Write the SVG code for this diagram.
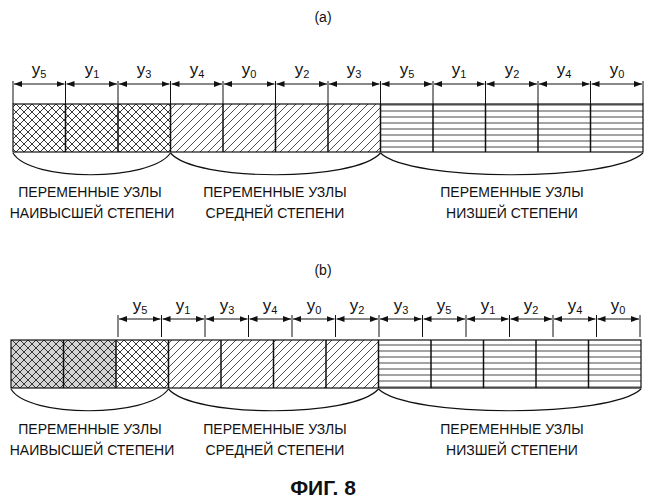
<svg xmlns="http://www.w3.org/2000/svg" width="646" height="500" viewBox="0 0 646 500">
<style>
text{font-family:"Liberation Sans",Arial,sans-serif;fill:#111}
.l{font-size:14px;text-anchor:middle}
.y{font-size:17px;text-anchor:middle}
.s{font-size:11px}
.c{stroke:#111;stroke-width:1.5}
.t{stroke:#111;stroke-width:1}
.b{fill:none;stroke:#111;stroke-width:1.2}
</style>
<defs>
<pattern id="x" width="8" height="8" patternUnits="userSpaceOnUse"><path d="M0,0L8,8M8,0L0,8" stroke="#222" stroke-width="0.9"/></pattern>
<pattern id="xg" width="8" height="8" patternUnits="userSpaceOnUse"><rect width="8" height="8" fill="#d4d4d4"/><path d="M0,0L8,8M8,0L0,8" stroke="#222" stroke-width="0.9"/></pattern>
<pattern id="d" width="8" height="8" patternUnits="userSpaceOnUse"><path d="M0,8L8,0M-2,2L2,-2M6,10L10,6" stroke="#222" stroke-width="0.8"/></pattern>
<pattern id="h" width="10" height="6" patternUnits="userSpaceOnUse"><path d="M0,3H10" stroke="#333" stroke-width="0.9"/></pattern>
<marker id="a" viewBox="0 0 8 6" refX="8" refY="3" markerWidth="8" markerHeight="6" orient="auto-start-reverse" markerUnits="userSpaceOnUse"><path d="M0,0L8,3L0,6z" fill="#111"/></marker>
</defs>
<text class="l" x="323" y="22">(a)</text>
<text class="l" x="323" y="275">(b)</text>
<g id="rowA">
<rect x="13" y="104" width="157.5" height="48" fill="url(#x)"/>
<rect x="170.5" y="104" width="210" height="48" fill="url(#d)"/>
<rect x="380.5" y="104" width="262.5" height="48" fill="url(#h)"/>
<rect x="13" y="104" width="630" height="48" class="b" stroke-width="1.5"/>
<g class="c">
<path d="M65.5,104V152M118,104V152M170.5,104V152M223,104V152M275.5,104V152M328,104V152M380.5,104V152M433,104V152M485.5,104V152M538,104V152M590.5,104V152"/>
</g>
</g>
<g id="dimA" class="t">
<path d="M13,81V104M65.5,81V104M118,81V104M170.5,81V104M223,81V104M275.5,81V104M328,81V104M380.5,81V104M433,81V104M485.5,81V104M538,81V104M590.5,81V104M643,81V104"/>
<g marker-start="url(#a)" marker-end="url(#a)">
<line x1="14" y1="84" x2="64.5" y2="84"/><line x1="66.5" y1="84" x2="117" y2="84"/><line x1="119" y1="84" x2="169.5" y2="84"/><line x1="171.5" y1="84" x2="222" y2="84"/><line x1="224" y1="84" x2="274.5" y2="84"/><line x1="276.5" y1="84" x2="327" y2="84"/><line x1="329" y1="84" x2="379.5" y2="84"/><line x1="381.5" y1="84" x2="432" y2="84"/><line x1="434" y1="84" x2="484.5" y2="84"/><line x1="486.5" y1="84" x2="537" y2="84"/><line x1="539" y1="84" x2="589.5" y2="84"/><line x1="591.5" y1="84" x2="642" y2="84"/>
</g>
</g>
<g id="labelsA">
<text class="y" x="39" y="75">y<tspan class="s" dy="3">5</tspan></text>
<text class="y" x="92" y="75">y<tspan class="s" dy="3">1</tspan></text>
<text class="y" x="144" y="75">y<tspan class="s" dy="3">3</tspan></text>
<text class="y" x="197" y="75">y<tspan class="s" dy="3">4</tspan></text>
<text class="y" x="249" y="75">y<tspan class="s" dy="3">0</tspan></text>
<text class="y" x="302" y="75">y<tspan class="s" dy="3">2</tspan></text>
<text class="y" x="354" y="75">y<tspan class="s" dy="3">3</tspan></text>
<text class="y" x="407" y="75">y<tspan class="s" dy="3">5</tspan></text>
<text class="y" x="459" y="75">y<tspan class="s" dy="3">1</tspan></text>
<text class="y" x="512" y="75">y<tspan class="s" dy="3">2</tspan></text>
<text class="y" x="564" y="75">y<tspan class="s" dy="3">4</tspan></text>
<text class="y" x="617" y="75">y<tspan class="s" dy="3">0</tspan></text>
</g>
<g id="bracesA" class="b">
<path d="M13,153C30,182 150,182 170.5,153"/>
<path d="M170.5,153C195,182 355,182 380.5,153"/>
<path d="M380.5,153C410,182 613,182 643,153"/>
</g>
<text class="l" x="90" y="197">ПЕРЕМЕННЫЕ УЗЛЫ</text>
<text class="l" x="92" y="218">НАИВЫСШЕЙ СТЕПЕНИ</text>
<text class="l" x="275" y="197">ПЕРЕМЕННЫЕ УЗЛЫ</text>
<text class="l" x="275" y="218">СРЕДНЕЙ СТЕПЕНИ</text>
<text class="l" x="512" y="197">ПЕРЕМЕННЫЕ УЗЛЫ</text>
<text class="l" x="512" y="218">НИЗШЕЙ СТЕПЕНИ</text>

<g id="rowB">
<rect x="11" y="340" width="105" height="48" fill="url(#xg)"/>
<rect x="116" y="340" width="52.5" height="48" fill="url(#x)"/>
<rect x="168.5" y="340" width="210" height="48" fill="url(#d)"/>
<rect x="378.5" y="340" width="262.5" height="48" fill="url(#h)"/>
<rect x="11" y="340" width="630" height="48" class="b" stroke-width="1.5"/>
<g class="c">
<path d="M63.5,340V388M116,340V388M168.5,340V388M221,340V388M273.5,340V388M326,340V388M378.5,340V388M431,340V388M483.5,340V388M536,340V388M588.5,340V388"/>
</g>
</g>
<g id="dimB" class="t">
<path d="M118,315V337M161.5,315V337M205,315V337M248.5,315V337M292,315V337M335.5,315V337M379,315V337M422.5,315V337M466,315V337M509.5,315V337M553,315V337M596.5,315V337M640,315V337"/>
<g marker-start="url(#a)" marker-end="url(#a)">
<line x1="119" y1="319" x2="160.5" y2="319"/><line x1="162.5" y1="319" x2="204" y2="319"/><line x1="206" y1="319" x2="247.5" y2="319"/><line x1="249.5" y1="319" x2="291" y2="319"/><line x1="293" y1="319" x2="334.5" y2="319"/><line x1="336.5" y1="319" x2="378" y2="319"/><line x1="380" y1="319" x2="421.5" y2="319"/><line x1="423.5" y1="319" x2="465" y2="319"/><line x1="467" y1="319" x2="508.5" y2="319"/><line x1="510.5" y1="319" x2="552" y2="319"/><line x1="554" y1="319" x2="595.5" y2="319"/><line x1="597.5" y1="319" x2="639" y2="319"/>
</g>
</g>
<g id="labelsB">
<text class="y" x="140" y="311">y<tspan class="s" dy="3">5</tspan></text>
<text class="y" x="183" y="311">y<tspan class="s" dy="3">1</tspan></text>
<text class="y" x="227" y="311">y<tspan class="s" dy="3">3</tspan></text>
<text class="y" x="270" y="311">y<tspan class="s" dy="3">4</tspan></text>
<text class="y" x="314" y="311">y<tspan class="s" dy="3">0</tspan></text>
<text class="y" x="357" y="311">y<tspan class="s" dy="3">2</tspan></text>
<text class="y" x="401" y="311">y<tspan class="s" dy="3">3</tspan></text>
<text class="y" x="444" y="311">y<tspan class="s" dy="3">5</tspan></text>
<text class="y" x="488" y="311">y<tspan class="s" dy="3">1</tspan></text>
<text class="y" x="531" y="311">y<tspan class="s" dy="3">2</tspan></text>
<text class="y" x="575" y="311">y<tspan class="s" dy="3">4</tspan></text>
<text class="y" x="618" y="311">y<tspan class="s" dy="3">0</tspan></text>
</g>
<g id="bracesB" class="b">
<path d="M11,389C28,418 148,418 168.5,389"/>
<path d="M168.5,389C193,418 353,418 378.5,389"/>
<path d="M378.5,389C408,418 611,418 641,389"/>
</g>
<text class="l" x="90" y="434">ПЕРЕМЕННЫЕ УЗЛЫ</text>
<text class="l" x="92" y="455">НАИВЫСШЕЙ СТЕПЕНИ</text>
<text class="l" x="275" y="434">ПЕРЕМЕННЫЕ УЗЛЫ</text>
<text class="l" x="275" y="455">СРЕДНЕЙ СТЕПЕНИ</text>
<text class="l" x="512" y="434">ПЕРЕМЕННЫЕ УЗЛЫ</text>
<text class="l" x="512" y="455">НИЗШЕЙ СТЕПЕНИ</text>
<text x="323" y="495" font-size="21" font-weight="bold" text-anchor="middle">ФИГ. 8</text>
</svg>
